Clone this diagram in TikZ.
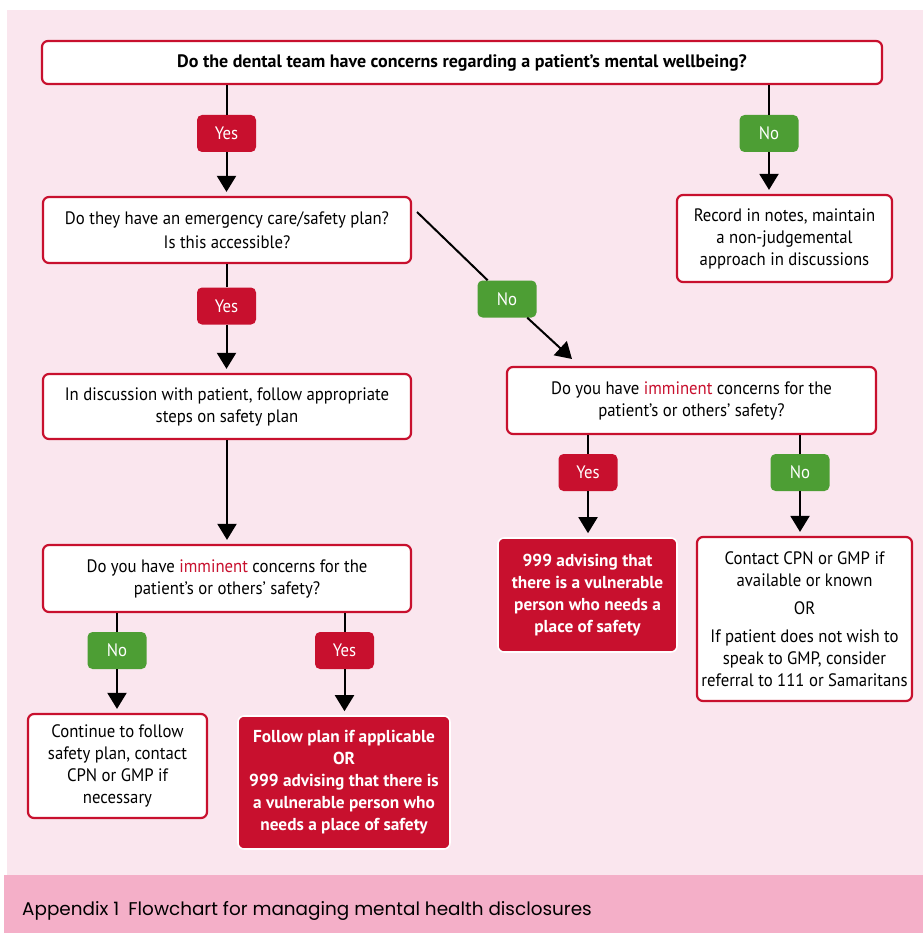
\documentclass[tikz,border=0pt]{standalone}
\usepackage{fontspec}
\setmainfont[FakeStretch=0.93, BoldFeatures={FakeStretch=1.0}]{PT Sans}
\newfontfamily\capfont{Poppins}
\usetikzlibrary{arrows.meta}
\definecolor{myred}{HTML}{C8102E}
\definecolor{mygreen}{HTML}{4D9E34}
\definecolor{bgpink}{HTML}{FAE6EE}
\definecolor{bandpink}{HTML}{F4AFC8}
\tikzset{
  txt/.style={font=\fontsize{18}{22}\selectfont, align=center, inner sep=0pt},
  wbox/.style={txt, draw=myred, line width=2.2pt, fill=white, rounded corners=6pt},
  rbox/.style={txt, draw=white, line width=1.6pt, fill=myred, text=white, rounded corners=6pt, font=\bfseries\fontsize{17.3}{22}\selectfont},
  yeslab/.style={txt, fill=myred, text=white, rounded corners=5pt, minimum width=59pt, minimum height=37pt},
  nolab/.style={txt, fill=mygreen, text=white, rounded corners=5pt, minimum width=59pt, minimum height=37pt},
  ln/.style={line width=2pt, black},
  arr/.style={line width=2pt, black, -{Triangle[width=19pt,length=16pt]}, shorten >=4pt},
}
\begin{document}
\begin{tikzpicture}[x=1pt,y=-1pt]
\useasboundingbox (0,0) rectangle (923,933);
\fill[bgpink] (7,10) rectangle (923,875);
\fill[bandpink] (4,875) rectangle (923,933);

% nodes
\node[wbox, minimum width=840pt, minimum height=43pt, font=\bfseries\fontsize{18}{22}\selectfont] (top) at (462,62.5)
  {Do the dental team have concerns regarding a patient’s mental wellbeing?};
\node[yeslab] (yes1) at (226.5,133.5) {Yes};
\node[nolab] (no1) at (769,133.5) {No};
\node[wbox, minimum width=368pt, minimum height=66pt] (plan) at (227,230)
  {Do they have an emergency care/safety plan?\\[2pt]Is this accessible?};
\node[wbox, minimum width=215pt, minimum height=87pt] (rec) at (784.5,238.5)
  {Record in notes, maintain\\a non-judgemental\\approach in discussions};
\node[yeslab] (yes2) at (226.5,306) {Yes};
\node[nolab] (noD) at (507,299) {No};
\node[wbox, minimum width=368pt, minimum height=65pt] (disc) at (227,406.5)
  {In discussion with patient, follow appropriate\\steps on safety plan};
\node[wbox, minimum width=369pt, minimum height=67pt] (imR) at (691.5,400.5)
  {Do you have \textcolor{myred}{imminent} concerns for the\\patient’s or others’ safety?};
\node[yeslab] (yes3) at (588,472.5) {Yes};
\node[nolab] (no3) at (800,472.5) {No};
\node[rbox, minimum width=179pt, minimum height=114pt] (r999) at (587.5,595)
  {999 advising that\\there is a vulnerable\\person who needs a\\place of safety};
\node[wbox, minimum width=215pt, minimum height=164pt] (contact) at (804.5,619)
  {Contact CPN or GMP if\\available or known\\[6pt]OR\\[6pt]If patient does not wish to\\speak to GMP, consider\\referral to 111 or Samaritans};
\node[wbox, minimum width=368pt, minimum height=67pt] (imL) at (227,578.5)
  {Do you have \textcolor{myred}{imminent} concerns for the\\patient’s or others’ safety?};
\node[nolab] (no4) at (117,650.5) {No};
\node[yeslab] (yes4) at (344.5,650.5) {Yes};
\node[wbox, minimum width=179pt, minimum height=104pt] (cont) at (117.5,766)
  {Continue to follow\\safety plan, contact\\CPN or GMP if\\necessary};
\node[rbox, minimum width=212pt, minimum height=133pt] (follow) at (344,782.5)
  {Follow plan if applicable\\OR\\999 advising that there is\\a vulnerable person who\\needs a place of safety};

\node[anchor=base west, inner sep=0pt, font=\capfont\fontsize{18.4}{20}\selectfont] (cap) at (22,915)
  {Appendix 1\enspace Flowchart for managing mental health disclosures};

% connectors
\draw[ln] (yes1.north) -- (yes1.north |- top.south);
\draw[arr] (yes1.south) -- (yes1.south |- plan.north);
\draw[ln] (no1.north) -- (no1.north |- top.south);
\draw[arr] (no1.south) -- (no1.south |- rec.north);
\draw[ln] (yes2.north) -- (yes2.north |- plan.south);
\draw[arr] (yes2.south) -- (yes2.south |- disc.north);
\coordinate (d1) at (417,212);
\coordinate (d2) at (572,359);
\draw[ln] (d1) -- (noD);
\draw[arr, shorten >=0pt] (noD) -- (d2);
\draw[arr] (disc.south) -- (imL.north);
\draw[ln] (yes3.north) -- (yes3.north |- imR.south);
\draw[arr] (yes3.south) -- (yes3.south |- r999.north);
\draw[ln] (no3.north) -- (no3.north |- imR.south);
\draw[arr] (no3.south) -- (no3.south |- contact.north);
\draw[ln] (no4.north) -- (no4.north |- imL.south);
\draw[arr] (no4.south) -- (no4.south |- cont.north);
\draw[ln] (yes4.north) -- (yes4.north |- imL.south);
\draw[arr] (yes4.south) -- (yes4.south |- follow.north);
\end{tikzpicture}
\end{document}
